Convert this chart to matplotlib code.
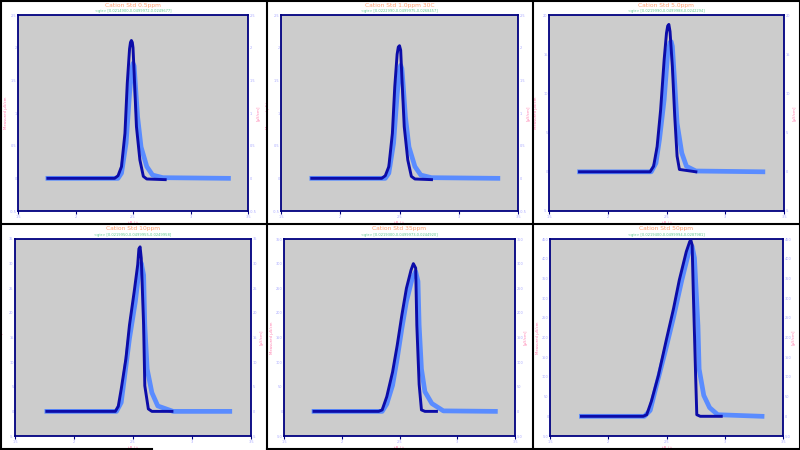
import matplotlib
matplotlib.use("Agg")
import matplotlib.pyplot as plt
from matplotlib.lines import Line2D

# ---- data (x = retention, y = signal) ----
titles = ["Cation Std 0.5ppm", "Cation Std 1.0ppm 30C", "Cation Std 5.0ppm",
          "Cation Std 10ppm", "Cation Std 35ppm", "Cation Std 50ppm"]
subtitles = ["<gtr> [0.0214900,0.0499972,0.0249677]",
             "<gtr> [0.0222990,0.0499975,0.0268457]",
             "<gtr> [0.0219990,0.0499988,0.0242294]",
             "<gtr> [0.0219950,0.0499955,0.0249958]",
             "<gtr> [0.0219300,0.0499973,0.0244920]",
             "<gtr> [0.0219400,0.0499994,0.0287981]"]

dark_x1 = [1.76, 2.34, 2.37, 2.40, 2.43, 2.45, 2.47, 2.478, 2.486, 2.494, 2.50, 2.51, 2.53, 2.56, 2.59, 2.62, 2.78]
dark_y1 = [0, 0, 0.04, 0.18, 0.69, 1.45, 1.98, 2.08, 2.11, 2.08, 2.00, 1.61, 0.79, 0.28, 0.03, -0.01, -0.02]
light_x1 = [1.76, 2.37, 2.40, 2.44, 2.47, 2.49, 2.50, 2.51, 2.52, 2.54, 2.57, 2.62, 2.67, 2.76, 3.33]
light_y1 = [0, 0, 0.08, 0.54, 1.30, 1.68, 1.76, 1.72, 1.45, 0.94, 0.48, 0.18, 0.05, 0.01, 0]

dark_x2 = [1.76, 2.35, 2.38, 2.41, 2.44, 2.46, 2.48, 2.49, 2.50, 2.51, 2.52, 2.54, 2.57, 2.60, 2.63, 2.77]
dark_y2 = [0, 0, 0.04, 0.18, 0.69, 1.40, 1.90, 2.01, 2.03, 1.96, 1.55, 0.79, 0.28, 0.03, -0.01, -0.02]
light_x2 = [1.76, 2.38, 2.41, 2.45, 2.48, 2.50, 2.51, 2.52, 2.53, 2.55, 2.58, 2.63, 2.68, 2.77, 3.33]
light_y2 = [0, 0, 0.08, 0.54, 1.28, 1.66, 1.73, 1.68, 1.45, 0.94, 0.48, 0.18, 0.05, 0.01, 0]

dark_x3 = [1.76, 2.36, 2.39, 2.42, 2.45, 2.48, 2.50, 2.51, 2.52, 2.53, 2.55, 2.57, 2.59, 2.61, 2.75]
dark_y3 = [0, 0, 0.7, 3.2, 7.9, 14.3, 17.7, 18.6, 18.8, 17.9, 13.4, 7.1, 2.0, 0.3, 0]
light_x3 = [1.76, 2.37, 2.41, 2.44, 2.48, 2.51, 2.53, 2.54, 2.55, 2.57, 2.59, 2.63, 2.67, 2.75, 3.32]
light_y3 = [0, 0, 1.1, 4.1, 9.2, 15.1, 16.5, 16.6, 16.0, 11.3, 6.2, 2.4, 0.7, 0.1, 0]

dark_x4 = [1.77, 2.35, 2.375, 2.40, 2.44, 2.47, 2.51, 2.54, 2.55, 2.56, 2.57, 2.59, 2.60, 2.63, 2.66, 2.83]
dark_y4 = [0, 0, 1.0, 4.5, 10.7, 17.5, 24.3, 29.8, 33.0, 33.4, 31.1, 17.5, 5.2, 0.5, 0, 0]
light_x4 = [1.77, 2.36, 2.40, 2.43, 2.47, 2.52, 2.55, 2.57, 2.59, 2.60, 2.62, 2.66, 2.71, 2.84, 3.32]
light_y4 = [0, 0, 1.8, 7.3, 14.8, 22.3, 28.4, 30.1, 27.7, 17.5, 8.6, 3.8, 1.1, 0, 0]

dark_x5 = [1.76, 2.32, 2.35, 2.39, 2.44, 2.48, 2.52, 2.56, 2.60, 2.62, 2.64, 2.65, 2.67, 2.69, 2.72, 2.82]
dark_y5 = [0, 0, 3, 30, 80, 134, 195, 250, 287, 300, 291, 175, 55, 3, 0, 0]
light_x5 = [1.76, 2.35, 2.39, 2.44, 2.48, 2.52, 2.56, 2.61, 2.64, 2.66, 2.67, 2.69, 2.72, 2.78, 2.88, 3.33]
light_y5 = [0, 0, 15, 53, 107, 168, 223, 270, 284, 264, 175, 86, 40, 16, 1, 0]

dark_x6 = [1.77, 2.30, 2.33, 2.37, 2.43, 2.50, 2.56, 2.61, 2.67, 2.70, 2.71, 2.72, 2.73, 2.75, 2.76, 2.79, 2.97]
dark_y6 = [0, 0, 4, 38, 103, 196, 273, 346, 418, 444, 446, 435, 316, 103, 4, 0, 0]
light_x6 = [1.77, 2.31, 2.36, 2.41, 2.49, 2.56, 2.63, 2.70, 2.72, 2.74, 2.77, 2.78, 2.82, 2.87, 2.94, 3.32]
light_y6 = [0, 0, 15, 74, 166, 251, 344, 427, 431, 402, 230, 120, 53, 22, 4, 0]

x_ticks = [1.5, 2, 2.5, 3, 3.5]
y_ticks = [[-0.5, 0, 0.5, 1, 1.5, 2, 2.5],
           [-0.5, 0, 0.5, 1, 1.5, 2, 2.5],
           [-5, 0, 5, 10, 15, 20],
           [-5, 0, 5, 10, 15, 20, 25, 30, 35],
           [-50, 0, 50, 100, 150, 200, 250, 300, 350],
           [-50, 0, 50, 100, 150, 200, 250, 300, 350, 400, 450]]

darks = [(dark_x1, dark_y1), (dark_x2, dark_y2), (dark_x3, dark_y3),
         (dark_x4, dark_y4), (dark_x5, dark_y5), (dark_x6, dark_y6)]
lights = [(light_x1, light_y1), (light_x2, light_y2), (light_x3, light_y3),
          (light_x4, light_y4), (light_x5, light_y5), (light_x6, light_y6)]

# axes boxes in pixels: left, right, top, bottom
boxes = [(18, 248, 15, 211), (281, 518, 15, 211), (549, 784, 15, 211),
         (15, 251, 239, 436), (284, 515, 239, 436), (550, 783, 239, 436)]

W, H = 800, 450
fig = plt.figure(figsize=(W / 100, H / 100), dpi=100)
fig.patch.set_facecolor("white")

navy = "#000080"
tick_col = "#a8a8ff"
pink = "#ff80b0"

for i in range(6):
    l, r, t, b = boxes[i]
    ax = fig.add_axes([l / W, 1 - b / H, (r - l) / W, (b - t) / H])
    ax.set_facecolor("#cccccc")
    lx, ly = lights[i]
    dx, dy = darks[i]
    ax.plot(lx, ly, color="#5a8cff", lw=3.4, solid_joinstyle="round", zorder=2)
    ax.plot(dx, dy, color="#0c0ca8", lw=2.1, solid_joinstyle="round", zorder=3)
    ax.set_xlim(1.5, 3.5)
    ax.set_ylim(y_ticks[i][0], y_ticks[i][-1])
    ax.set_xticks(x_ticks)
    ax.set_xticklabels(["1.5", "2", "2.5", "3", "3.5"])
    ax.set_yticks(y_ticks[i])
    ax.set_yticklabels([f"{v:g}" for v in y_ticks[i]])
    for s in ax.spines.values():
        s.set_color(navy)
        s.set_linewidth(1.3)
    ax.tick_params(axis="x", colors=navy, labelcolor=tick_col, labelsize=2.5,
                   length=2, width=0.8, pad=1)
    ax.tick_params(axis="y", colors=tick_col, labelcolor=tick_col, labelsize=2.5,
                   length=0, pad=1, right=True, labelright=True)
    ax.set_xlabel("tR / t", color=pink, fontsize=3, labelpad=1)
    ax.set_ylabel("Measured µS/cm", color=pink, fontsize=2.8)
    ax.yaxis.set_label_coords(-0.045, 0.5)
    ax.text(1.045, 0.5, "[µS/cm]", transform=ax.transAxes, rotation=90,
            color=pink, fontsize=2.8, ha="center", va="center")
    cx = (l + r) / 2 / W
    fig.text(cx, 1 - (t - 10) / H, titles[i], color="#ffa070", fontsize=4.3,
             ha="center", va="center")
    fig.text(cx, 1 - (t - 4) / H, subtitles[i], color="#60c890", fontsize=2.6,
             ha="center", va="center")

# black panel frames
def hline(y, x0, x1):
    fig.add_artist(Line2D([x0 / W, x1 / W], [1 - y / H, 1 - y / H],
                          color="black", lw=1.5, transform=fig.transFigure))

def vline(x, y0, y1):
    fig.add_artist(Line2D([x / W, x / W], [1 - y0 / H, 1 - y1 / H],
                          color="black", lw=1.5, transform=fig.transFigure))

hline(0.5, 0, 800)
hline(224, 0, 800)
hline(448.5, 0, 152)
hline(448.5, 267, 800)
vline(0.5, 0, 450)
vline(266.5, 0, 450)
vline(533, 0, 450)
vline(799.5, 0, 450)

fig.savefig("out.png", dpi=100)
